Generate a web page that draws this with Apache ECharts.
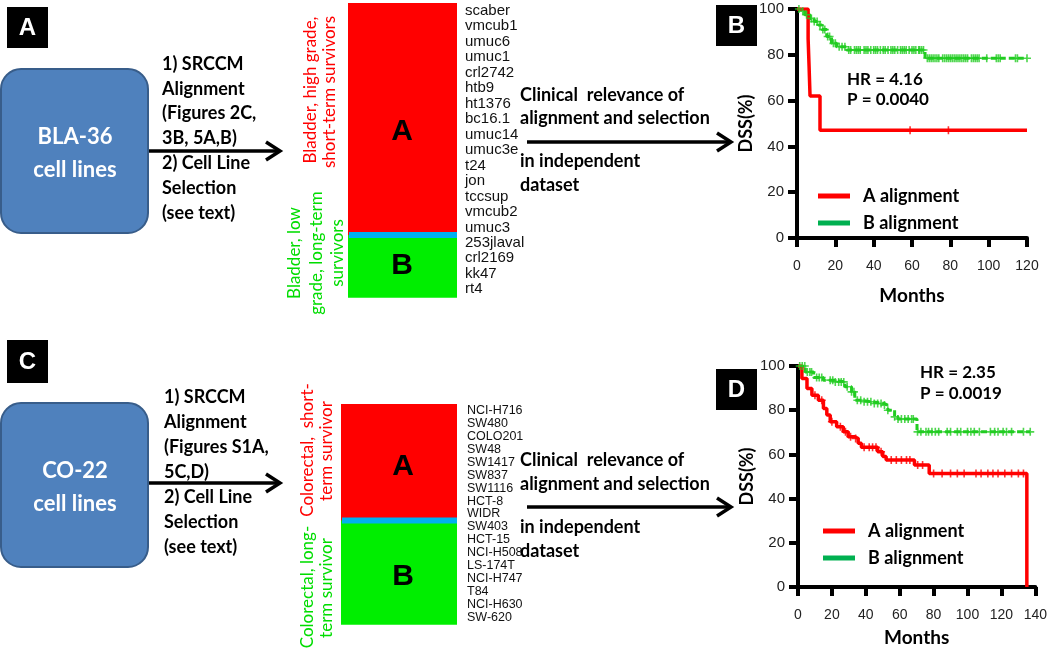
<!DOCTYPE html>
<html><head><meta charset="utf-8">
<script src="https://cdn.jsdelivr.net/npm/echarts@6/dist/echarts.min.js"></script>
<style>html,body{margin:0;padding:0;background:#fff}#c{width:1050px;height:648px}</style>
</head><body><div id="c"></div>
<script>
// ---------- DATA ----------
const bladderLines = ['scaber','vmcub1','umuc6','umuc1','crl2742','htb9','ht1376','bc16.1','umuc14','umuc3e','t24','jon','tccsup','vmcub2','umuc3','253jlaval','crl2169','kk47','rt4'];
const bladderGroups = ['A','A','A','A','A','A','A','A','A','A','A','A','A','A','A','B','B','B','B'];
const colorectalLines = ['NCI-H716','SW480','COLO201','SW48','SW1417','SW837','SW1116','HCT-8','WIDR','SW403','HCT-15','NCI-H508','LS-174T','NCI-H747','T84','NCI-H630','SW-620'];
const colorectalGroups = ['A','A','A','A','A','A','A','A','A','B','B','B','B','B','B','B','B'];

// Kaplan-Meier curves: [month, DSS %] (value after the drop at that month)
const kmB_A = [[0,100],[5.8,87],[6.3,75],[6.8,62],[12,47],[120,47]];
const kmB_B = [[0,100],[2,99],[4,97.5],[6.8,95.9],[9,94.5],[11.1,93],[13,91],[15.5,88],[18,85],[20.7,83.5],[25.9,82.1],[66.8,78.5],[120,78.5]];
const kmB_A_censor = [59,79];
const kmB_B_censor = [1,3,5,7.5,9,10.5,12,13.5,14.5,16,17,19,20,22,23.5,25,27,28,30,31,32,33,35,36,37,38.5,40,41,42,43.5,45,46,47.5,49,50,51,52.5,54,55,56,57,58.5,60,61,62,63.5,64,65,66,68,69,70,71,72,73,74,76,77,78,79,80,81,82,83,84,85,86,87,88,89,91,92,93,94,95,99,104,105,106,114,115,120];
const kmD_A = [[0,100],[2.3,94.3],[5.3,89.8],[8.2,86.8],[12,84.5],[15,80.8],[17,77.8],[19,74.8],[22.8,72.5],[26.7,70.2],[29.6,68],[33.5,67.2],[35.5,65],[37.4,63.2],[47,61.2],[50,59],[52,57.5],[68.7,55.2],[77.4,51.4],[135,0]];
const kmD_B = [[0,100],[4.3,97.3],[9.2,94.8],[15,93.6],[20.9,92.8],[27.7,90.6],[31.6,88.3],[33.5,84.5],[37.4,83.8],[43.3,83],[51,82.3],[53,80],[57,77],[59,76],[70.2,70.2],[137,70.2]];
const kmD_A_censor = [10,14,20,25,28,31,34,39,42,44,46,49,55,58,61,64,66,70.6,73.5,80,85,90,94,98,105,108,112,115,118,122,126,130,133];
const kmD_B_censor = [1,2.5,4,5.5,7,8,11,12.5,14,19,20.5,22,24,25.5,27,29,31.6,33,35,37,39,41,43,45,47,49,51,53,57,59,61,63,65,67,68,70.5,72.5,75.5,77,79,81,83,88,90,94,96,100,102,104,107,113.5,116,118,121,123,126,133,137];

const monthMaxB = 120, monthMaxD = 140, dssTicks = 20;

// ---------- HELPERS ----------
const FB = 'Lato, "Open Sans", sans-serif';
const FA = '"Liberation Sans", Arial, sans-serif';
function stepAt(curve, t){ let v = curve[0][1]; for (const p of curve){ if (p[0] <= t) v = p[1]; } return v; }
const PLUS = 'path://M4,0H6V4H10V6H6V10H4V6H0V4H4Z';

function heatSeries(idx, groups){
  return {
    type:'custom', xAxisIndex:idx, yAxisIndex:idx, silent:true,
    data: groups.map((g,i)=>[0,i,g==='A'?0:1]),
    renderItem(params, api){
      const i = api.value(1), g = api.value(2);
      const p0 = api.coord([0,i]), p1 = api.coord([1,i]);
      const h = api.size([0,1])[1];
      const ch = [{type:'rect', shape:{x:p0[0], y:p0[1]-h/2, width:p1[0]-p0[0], height:h+0.8}, style:{fill: g===0?'#FF0000':'#00EE00'}}];
      if (i>0 && groups[i]!==groups[i-1]) ch.push({type:'rect', shape:{x:p0[0]+1, y:p0[1]-h/2-3, width:p1[0]-p0[0]-1, height:6}, style:{fill:'#00B0F0'}});
      return {type:'group', children:ch};
    }
  };
}
function kmAxisX(idx, max, gap){
  return {gridIndex:idx, type:'value', min:0, max:max, interval:20, name:'Months', nameLocation:'middle', nameGap:gap,
    nameTextStyle:{fontFamily:FB, fontWeight:'bold', fontSize:19, color:'#000'},
    axisLine:{show:true, onZero:false, lineStyle:{color:'#000', width:4}},
    axisTick:{show:true, length:9, lineStyle:{color:'#000', width:4}},
    axisLabel:{fontFamily:FA, fontSize:14, color:'#222', margin:21},
    splitLine:{show:false}};
}
function kmAxisY(idx){
  return {gridIndex:idx, type:'value', min:0, max:100, interval:dssTicks, name:'DSS(%)', nameLocation:'middle', nameGap:28,
    nameTextStyle:{fontFamily:FB, fontWeight:'bold', fontSize:18, color:'#000'},
    axisLine:{show:true, onZero:false, lineStyle:{color:'#000', width:4}},
    axisTick:{show:true, length:9, lineStyle:{color:'#000', width:4}},
    axisLabel:{fontFamily:FA, fontSize:15, color:'#222', margin:13},
    splitLine:{show:false}};
}
function kmLine(idx, name, data, color, dashed){
  return {type:'line', name:name, xAxisIndex:idx, yAxisIndex:idx, data:data, step:'end', showSymbol:false, symbol:'none',
    lineStyle:{color:color, width: dashed?3:3.5, type: dashed?[6,3]:'solid'}, itemStyle:{color:color}, silent:true, z:3};
}
function censor(idx, name, times, curve, color){
  return {type:'scatter', name:name, xAxisIndex:idx, yAxisIndex:idx, data: times.map(t=>[t, stepAt(curve,t)]),
    symbol:PLUS, symbolSize:8, itemStyle:{color:color}, silent:true, z:4};
}
function txt(s, x, y, opt){
  opt = opt || {};
  return {type:'text', x:x, y:y, rotation:opt.rot||0, silent:true, z:10,
    style:{text:s, fill:opt.color||'#000', font:opt.font||('bold 18px '+FB), textAlign:opt.align||'left', textVerticalAlign:'middle'}};
}
function arrow(x1, x2, y){
  return {type:'group', silent:true, children:[
    {type:'polyline', shape:{points:[[x1,y],[x2-2,y]]}, style:{stroke:'#000', lineWidth:3.5}},
    {type:'polyline', shape:{points:[[x2-14,y-9],[x2,y],[x2-14,y+9]]}, style:{stroke:'#000', lineWidth:3.5, fill:null, lineJoin:'miter'}}
  ]};
}
function panelLabel(ch, x, y, w, h){
  return {type:'group', silent:true, children:[
    {type:'rect', shape:{x:x, y:y, width:w, height:h}, style:{fill:'#000'}},
    txt(ch, x+w/2, y+h/2+1, {color:'#fff', font:'bold 24px '+FA, align:'center'})
  ]};
}
function blueBox(y, l1, l2){
  return {type:'group', silent:true, children:[
    {type:'rect', shape:{x:1, y:y, width:147, height:164, r:20}, style:{fill:'#4F81BD', stroke:'#385D8A', lineWidth:2}},
    txt(l1, 75, y+68, {color:'#fff', font:'bold 22px '+FB, align:'center'}),
    txt(l2, 75, y+101, {color:'#fff', font:'bold 22px '+FB, align:'center'})
  ]};
}

const graphics = [
  panelLabel('A', 7, 7, 41, 41), panelLabel('B', 716, 5, 41, 41),
  panelLabel('C', 7, 340, 41, 43), panelLabel('D', 716, 369, 41, 41),
  blueBox(69, 'BLA-36', 'cell lines'), blueBox(403, 'CO-22', 'cell lines'),
  arrow(149, 280, 151), arrow(149, 280, 483), arrow(527, 731, 142), arrow(527, 731, 507)
];
['1) SRCCM','Alignment','(Figures 2C,','3B, 5A,B)','2) Cell Line','Selection','(see text)'].forEach((s,i)=>graphics.push(txt(s,162,64+i*24.8)));
['1) SRCCM','Alignment','(Figures S1A,','5C,D)','2) Cell Line','Selection','(see text)'].forEach((s,i)=>graphics.push(txt(s,164,397+i*25)));
[['Clinical  relevance of',95],['alignment and selection',118],['in independent',161],['dataset',185]].forEach(a=>graphics.push(txt(a[0],520,a[1])));
[['Clinical  relevance of',460],['alignment and selection',484],['in independent',527],['dataset',551]].forEach(a=>graphics.push(txt(a[0],520,a[1])));
const RV = {rot:Math.PI/2, align:'center', font:'17px '+FB};
graphics.push(txt('Bladder, high grade,', 311, 90, Object.assign({color:'#FF0000'},RV)));
graphics.push(txt('short-term survivors', 330, 92, Object.assign({color:'#FF0000'},RV)));
graphics.push(txt('Bladder, low', 295, 253, Object.assign({color:'#00DD00'},RV)));
graphics.push(txt('grade, long-term', 317, 253, Object.assign({color:'#00DD00'},RV)));
graphics.push(txt('survivors', 338, 253, Object.assign({color:'#00DD00'},RV)));
graphics.push(txt('Colorectal,  short-', 308, 450, Object.assign({color:'#FF0000'},RV)));
graphics.push(txt('term survivor', 327, 451, Object.assign({color:'#FF0000'},RV)));
graphics.push(txt('Colorectal, long-', 308, 587, Object.assign({color:'#00DD00'},RV)));
graphics.push(txt('term survivor', 327, 588, Object.assign({color:'#00DD00'},RV)));
graphics.push(txt('A', 402, 132, {align:'center', font:'bold 30px '+FA}));
graphics.push(txt('B', 402, 266, {align:'center', font:'bold 30px '+FA}));
graphics.push(txt('A', 403, 467, {align:'center', font:'bold 30px '+FA}));
graphics.push(txt('B', 403, 577, {align:'center', font:'bold 30px '+FA}));
graphics.push(txt('HR = 4.16', 847, 80, {font:'bold 17px '+FB}));
graphics.push(txt('P = 0.0040', 847, 100, {font:'bold 17px '+FB}));
graphics.push(txt('HR = 2.35', 920, 373, {font:'bold 17px '+FB}));
graphics.push(txt('P = 0.0019', 920, 394, {font:'bold 17px '+FB}));

const legendBase = {orient:'vertical', itemWidth:32, itemHeight:5, itemGap:7, icon:'rect', selectedMode:false,
  formatter:'{b|{name}}',
  textStyle:{lineHeight:20, padding:[0,0,0,8],
    rich:{b:{fontFamily:FB, fontWeight:'bold', fontSize:18, color:'#000', lineHeight:20}}},
  data:[{name:'A alignment', itemStyle:{color:'#FF0000', borderWidth:0}}, {name:'B alignment', itemStyle:{color:'#00B050', borderWidth:0}}]};

const option = {
  backgroundColor:'#fff', animation:false,
  grid:[
    {left:348, top:3, width:109, height:294},
    {left:341, top:404, width:116, height:220},
    {left:797, top:9, width:230, height:229},
    {left:798, top:366, width:240, height:221}
  ],
  xAxis:[
    {gridIndex:0, type:'value', min:0, max:1, show:false},
    {gridIndex:1, type:'value', min:0, max:1, show:false},
    kmAxisX(2, monthMaxB, 48), kmAxisX(3, monthMaxD, 41)
  ],
  yAxis:[
    {gridIndex:0, type:'category', data:bladderLines, inverse:true, position:'right', axisLine:{show:false}, axisTick:{show:false},
      axisLabel:{interval:0, margin:8, fontFamily:'"Liberation Sans Narrow", "Arial Narrow", '+FA, fontSize:15, color:'#111'}},
    {gridIndex:1, type:'category', data:colorectalLines, inverse:true, position:'right', axisLine:{show:false}, axisTick:{show:false},
      axisLabel:{interval:0, margin:10, fontFamily:FA, fontSize:12.5, color:'#111'}},
    kmAxisY(2), kmAxisY(3)
  ],
  legend:[Object.assign({left:813, top:181}, legendBase), Object.assign({left:818, top:516}, legendBase)],
  series:[
    heatSeries(0, bladderGroups), heatSeries(1, colorectalGroups),
    kmLine(2, 'B alignment', kmB_B, '#22CC22', true), censor(2, 'B cens', kmB_B_censor, kmB_B, '#22CC22'),
    kmLine(2, 'A alignment', kmB_A, '#FF0000', false), censor(2, 'A cens', kmB_A_censor, kmB_A, '#FF0000'),
    kmLine(3, 'B alignment', kmD_B, '#22CC22', true), censor(3, 'B cens', kmD_B_censor, kmD_B, '#22CC22'),
    kmLine(3, 'A alignment', kmD_A, '#FF0000', false), censor(3, 'A cens', kmD_A_censor, kmD_A, '#FF0000')
  ],
  graphic: graphics
};
const chart = echarts.init(document.getElementById('c'), null, {renderer:'canvas'});
chart.setOption(option);
</script></body></html>
